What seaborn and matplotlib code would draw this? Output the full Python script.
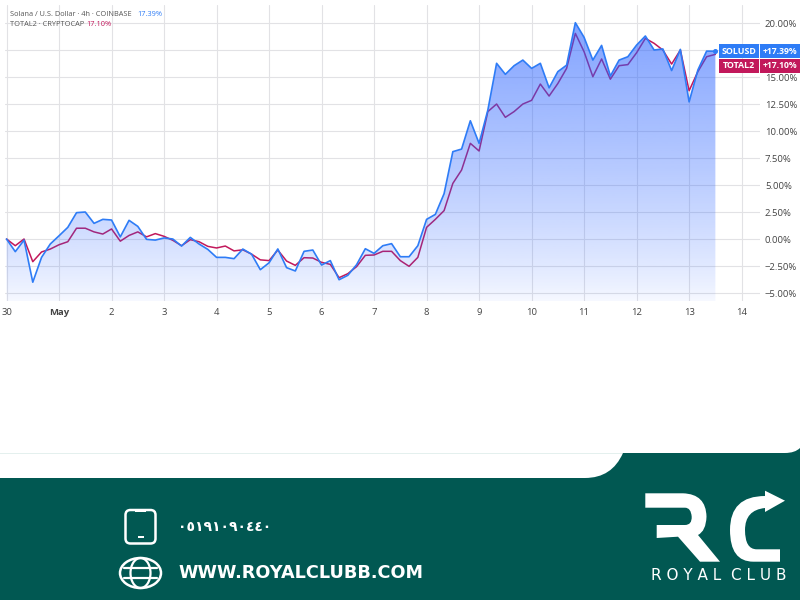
# Solana vs TOTAL2 percent comparison chart with Royal Club footer
import numpy as np
import pandas as pd
import matplotlib.pyplot as plt
import seaborn as sns
from matplotlib.patches import PathPatch, FancyBboxPatch, Ellipse, Rectangle
from matplotlib.path import Path

# values, one point every 4 hours
sol = [0.0, -1.17, -0.1, -4.0, -1.7, -0.46, 0.3, 1.08, 2.44, 2.5, 1.45, 1.82, 1.76, 0.2, 1.73, 1.17,
       -0.03, -0.1, 0.1, 0.0, -0.65, 0.15, -0.46, -0.96, -1.7, -1.7, -1.82, -0.93, -1.4, -2.84,
       -2.2, -0.92, -2.65, -2.96, -1.14, -1.02, -2.41, -2.0, -3.77, -3.36, -2.38, -0.9, -1.33,
       -0.62, -0.43, -1.64, -1.64, -0.62, 1.82, 2.28, 4.2, 8.09, 8.33, 10.95, 8.86, 11.94, 16.27,
       15.25, 16.05, 16.57, 15.8, 16.27, 14.0, 15.5, 16.1, 20.03, 18.67, 16.57, 17.93, 15.09,
       16.57, 16.88, 17.96, 18.8, 17.5, 17.6, 15.6, 17.56, 12.7, 15.65, 17.4, 17.39]
total2 = [0.0, -0.62, 0.0, -2.1, -1.2, -0.93, -0.53, -0.25, 1.0, 1.0, 0.66, 0.46, 0.93, -0.2, 0.33, 0.66,
          0.2, 0.5, 0.25, -0.12, -0.62, -0.06, -0.25, -0.68, -0.83, -0.65, -1.1, -1.0, -1.4, -1.93,
          -2.0, -1.02, -2.04, -2.44, -1.73, -1.76, -2.16, -2.35, -3.58, -3.21, -2.56, -1.51, -1.48,
          -1.14, -1.14, -2.0, -2.53, -1.7, 1.08, 1.82, 2.63, 5.15, 6.39, 8.86, 8.15, 11.8, 12.5,
          11.27, 11.8, 12.5, 12.84, 14.35, 13.24, 14.4, 15.8, 19.04, 17.34, 15.03, 16.67, 14.8,
          16.05, 16.15, 17.25, 18.58, 18.12, 17.5, 16.2, 17.5, 13.73, 15.5, 16.88, 17.1]
y_ticks = [-5, -2.5, 0, 2.5, 5, 7.5, 10, 12.5, 15, 17.5, 20]
y_labels = ['\u22125.00%', '\u22122.50%', '0.00%', '2.50%', '5.00%', '7.50%', '10.00%', '12.50%', '15.00%', '', '20.00%']
x_labels = ['30', 'May', '2', '3', '4', '5', '6', '7', '8', '9', '10', '11', '12', '13', '14']

BLUE = '#2E7CF6'
PINK = '#C2185B'
GREEN = '#015852'
GRID = '#E2E2E5'

sns.set_theme(style='white')
plt.rcParams['font.family'] = ['Open Sans', 'DejaVu Sans']

df = pd.DataFrame({
    'time': pd.date_range('2025-04-30', periods=len(sol), freq='4h'),
    'sol': sol,
    'total2': total2,
})
x_ticks = pd.date_range('2025-04-30', periods=len(x_labels), freq='D')

fig = plt.figure(figsize=(8, 6), dpi=100)
ax = fig.add_axes([5 / 800, 1 - 301 / 600, 755 / 800, 296 / 600])

ax.set_xticks(x_ticks)
ax.set_yticks(y_ticks)
ax.grid(True, color=GRID, linewidth=0.8)
ax.set_axisbelow(True)

# the area sits on top of the TOTAL2 line, that is why the line looks purple inside it
sns.lineplot(data=df, x='time', y='total2', color=PINK, linewidth=1.1, ax=ax, zorder=3, errorbar=None)

ax.set_xlim(df['time'].iloc[0] - pd.Timedelta(hours=0.7), df['time'].iloc[0] + pd.Timedelta(days=14.35))
ax.set_ylim(-5.74, 21.67)

# vertical gradient under the SOL line
rgba = np.ones((256, 1, 4))
rgba[..., 0], rgba[..., 1], rgba[..., 2] = 0x29 / 255, 0x62 / 255, 0xFF / 255
rgba[..., 3] = (0.04 + 0.54 * np.linspace(1, 0, 256) ** 0.8).reshape(-1, 1)
xlim = ax.get_xlim()
band = ax.fill_between(df['time'], sol, -5.74, color='none')
img = ax.imshow(rgba, extent=[xlim[0], xlim[1], -5.74, max(sol)], aspect='auto', zorder=4, origin='upper')
img.set_clip_path(band.get_paths()[0], transform=ax.transData)
ax.set_xlim(xlim)
ax.set_ylim(-5.74, 21.67)

sns.lineplot(data=df, x='time', y='sol', color=BLUE, linewidth=1.2, ax=ax, zorder=5, errorbar=None)
ax.plot(df['time'].iloc[-1], sol[-1], 'o', color=BLUE, ms=2.6, zorder=6, clip_on=False)

ax.set_xlabel('')
ax.set_ylabel('')
ax.set_xticklabels(x_labels, fontsize=6.8, color='#444444')
ax.get_xticklabels()[1].set_fontweight('bold')
ax.yaxis.tick_right()
ax.set_yticklabels(y_labels, fontsize=6.8, color='#444444')
ax.tick_params(axis='x', length=0, pad=5)
ax.tick_params(axis='y', length=0, pad=3.5)
sns.despine(ax=ax, left=True, bottom=True, right=True, top=True)

# everything else is placed in picture pixels
over = fig.add_axes([0, 0, 1, 1], zorder=10)
over.set_xlim(0, 800)
over.set_ylim(600, 0)
over.axis('off')
over.patch.set_alpha(0)

# legend lines at the top left
over.text(10, 15, 'Solana / U.S. Dollar \u00b7 4h \u00b7 COINBASE', fontsize=5.3, color='#555555', va='center')
over.text(137, 15, '17.39%', fontsize=5.3, color=BLUE, va='center')
over.text(10, 25, 'TOTAL2 \u00b7 CRYPTOCAP', fontsize=5.3, color='#555555', va='center')
over.text(86, 25, '17.10%', fontsize=5.3, color=PINK, va='center')

# price tags on the right
for y0, col, name, val in [(44, BLUE, 'SOLUSD', '+17.39%'), (59, PINK, 'TOTAL2', '+17.10%')]:
    over.add_patch(Rectangle((719, y0), 81, 14, color=col, lw=0))
    over.plot([759, 759], [y0, y0 + 14], color='white', lw=0.7)
    over.text(739, y0 + 7, name, fontsize=6.4, color='white', ha='center', va='center', fontweight='bold')
    over.text(763, y0 + 7, val, fontsize=6.2, color='white', va='center', fontweight='bold')

# footer band
over.add_patch(Rectangle((0, 452.5), 624, 1.5, color='#E4F0EE', lw=0))
footer = Path([(0, 478), (585, 478), (612, 478), (623, 453), (785, 453), (795, 453), (800, 448),
               (800, 600), (0, 600), (0, 478)],
              [Path.MOVETO, Path.LINETO, Path.CURVE3, Path.CURVE3, Path.LINETO, Path.CURVE3, Path.CURVE3,
               Path.LINETO, Path.LINETO, Path.CLOSEPOLY])
over.add_patch(PathPatch(footer, color=GREEN, lw=0))

# phone icon
over.add_patch(FancyBboxPatch((128.5, 513), 24, 27.5, boxstyle='round,pad=3,rounding_size=5', fc='none', ec='white', lw=1.8))
over.add_patch(Rectangle((135, 509), 11, 2.5, color='white', lw=0))
over.add_patch(Rectangle((137.5, 536), 6, 1.6, color='white', lw=0))
over.text(178, 527, '\u0660\u0665\u0661\u0669\u0661\u0660\u0669\u0660\u0664\u0664\u0660', fontsize=10,
          color='white', va='center', fontweight='bold', family='DejaVu Sans')

# globe icon
over.add_patch(Ellipse((140.5, 573), 41, 30, fc='none', ec='white', lw=1.8))
over.add_patch(Ellipse((140.5, 573), 20, 30, fc='none', ec='white', lw=1.6))
over.plot([124, 157], [568, 568], color='white', lw=1.6)
over.plot([124, 157], [578, 578], color='white', lw=1.6)
over.text(178, 573, 'WWW.ROYALCLUBB.COM', fontsize=12.7, color='white', va='center', fontweight='bold',
          family='DejaVu Sans')

# logo letters
r_shape = Path([(645.3, 493.3), (683, 493.3), (706, 494), (706.5, 516.7), (706, 531), (698, 535),
                (720, 561.7), (700, 561.7), (678, 536.7), (656.7, 538), (656.7, 525), (685, 525),
                (692, 525), (691.7, 516.7), (691, 507.7), (685, 507.7), (645.3, 507.7), (645.3, 493.3)],
               [Path.MOVETO, Path.LINETO, Path.CURVE3, Path.CURVE3, Path.CURVE3, Path.CURVE3,
                Path.LINETO, Path.LINETO, Path.LINETO, Path.LINETO, Path.LINETO, Path.LINETO,
                Path.CURVE3, Path.CURVE3, Path.CURVE3, Path.CURVE3, Path.LINETO, Path.CLOSEPOLY])
c_shape = Path([(785, 500.7), (765, 490.7), (765, 496), (730, 496), (730, 530), (730, 561.7), (753.3, 561.7),
                (780, 561.7), (780, 549.3), (756.7, 549.3), (745, 549.3), (745, 530), (745, 510), (765, 508),
                (765, 512), (785, 500.7)],
               [Path.MOVETO, Path.LINETO, Path.LINETO, Path.CURVE3, Path.CURVE3, Path.CURVE3, Path.CURVE3,
                Path.LINETO, Path.LINETO, Path.LINETO, Path.CURVE3, Path.CURVE3, Path.CURVE3, Path.CURVE3,
                Path.LINETO, Path.CLOSEPOLY])
over.add_patch(PathPatch(r_shape, color='white', lw=0))
over.add_patch(PathPatch(c_shape, color='white', lw=0))
over.text(718.5, 575, 'R O Y A L  C L U B', fontsize=11, color='white', ha='center', va='center', family='DejaVu Sans')

plt.savefig('out.png', dpi=100)
